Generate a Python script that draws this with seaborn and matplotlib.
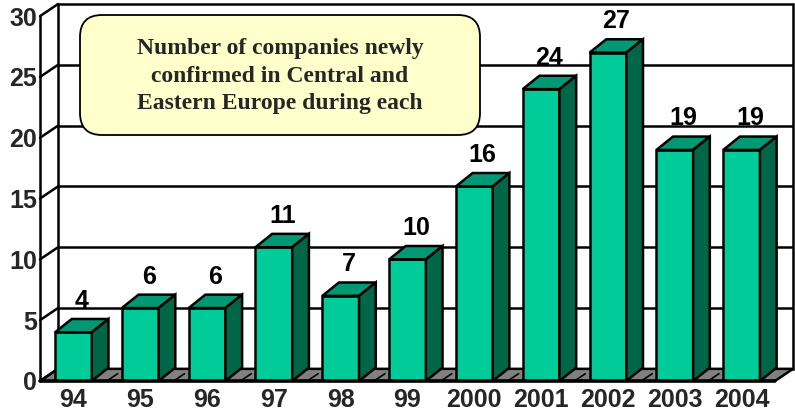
import matplotlib.pyplot as plt
import seaborn as sns
from matplotlib.patches import Polygon, Rectangle, FancyBboxPatch

years = ["94", "95", "96", "97", "98", "99", "2000", "2001", "2002", "2003", "2004"]
counts = [4, 6, 6, 11, 7, 10, 16, 24, 27, 19, 19]
y_ticks = [0, 5, 10, 15, 20, 25, 30]
note_lines = ["Number of companies newly",
              "confirmed in Central and",
              "Eastern Europe during each"]

FRONT = "#00CC99"
TOP = "#009973"
SIDE = "#006648"
FLOOR = "#808080"
DX, DY = 0.27, 1.0   # depth of the walls (category units, value units)
BX, BY = 0.25, 1.1   # depth of each bar
LW = 1.8
FS = 18

sns.set_theme(style="white")
plt.rcParams["font.family"] = ["Liberation Sans", "DejaVu Sans"]

fig = plt.figure(figsize=(7.95, 4.16), dpi=100)
ax = fig.add_axes([40 / 795, 35 / 416, 753 / 795, 377 / 416])

sns.barplot(x=years, y=counts, color=FRONT, saturation=1, width=0.55,
            edgecolor="black", linewidth=LW, ax=ax, zorder=4)
bars = list(ax.patches)

n = len(years)
x_lo, x_hi = -0.5, n - 0.5
top = y_ticks[-1]

# back wall + gridlines
ax.add_patch(Rectangle((x_lo + DX, DY), n, top, fc="white", ec="black",
                       lw=LW, zorder=0, clip_on=False))
for v in y_ticks[1:-1]:
    ax.plot([x_lo + DX, x_hi + DX], [v + DY, v + DY], color="black", lw=LW, zorder=1)

# left wall
ax.plot([x_lo, x_lo], [0, top], color="black", lw=LW, zorder=2, clip_on=False)
for v in y_ticks:
    ax.plot([x_lo, x_lo + DX], [v, v + DY], color="black", lw=LW, zorder=2, clip_on=False)

# floor
ax.add_patch(Polygon([(x_lo, 0), (x_hi, 0), (x_hi + DX, DY), (x_lo + DX, DY)],
                     closed=True, fc=FLOOR, ec="black", lw=LW, zorder=1, clip_on=False))
for k in range(n + 1):
    b = k - 0.5
    ax.plot([b, b + DX * 0.6], [0, DY * 0.6], color="black", lw=1.2, zorder=1)
ax.plot([x_lo, x_hi], [0, 0], color="black", lw=LW * 1.4, zorder=5, clip_on=False)

# 3d faces of the bars + value labels
for p, v in zip(bars, counts):
    x0 = p.get_x()
    w = p.get_width()
    h = p.get_height()
    x1 = x0 + w
    ax.add_patch(Polygon([(x0, h), (x1, h), (x1 + BX, h + BY), (x0 + BX, h + BY)],
                         closed=True, fc=TOP, ec="black", lw=LW, zorder=4))
    ax.add_patch(Polygon([(x1, 0), (x1 + BX, BY), (x1 + BX, h + BY), (x1, h)],
                         closed=True, fc=SIDE, ec="black", lw=LW, zorder=4))
    ax.text(x0 + w / 2 + BX / 2, h + BY + 0.5, str(v), ha="center", va="bottom",
            fontsize=FS, fontweight="bold", color="black", zorder=6)

ax.set_xlim(x_lo, x_hi + DX)
ax.set_ylim(0, top + DY)
ax.set_yticks(y_ticks)
ax.set_yticklabels([str(t) for t in y_ticks])
ax.tick_params(axis="both", length=0, labelsize=FS)
ax.tick_params(axis="x", pad=5)
ax.tick_params(axis="y", pad=2)
for lbl in ax.get_xticklabels() + ax.get_yticklabels():
    lbl.set_fontweight("bold")
ax.set_xlabel("")
ax.set_ylabel("")
for s in ax.spines.values():
    s.set_visible(False)
ax.patch.set_visible(False)

# note box
box = FancyBboxPatch((0.80, 2.81), 4.0, 1.2,
                     boxstyle="round,pad=0,rounding_size=0.22",
                     transform=fig.dpi_scale_trans, fc="#FFFFCC", ec="black",
                     lw=1.3, zorder=5)
fig.add_artist(box)
fig.text(2.80 / 7.95, 1 - 76 / 416, "\n".join(note_lines), ha="center", va="center",
         family=["Liberation Serif", "DejaVu Serif"], fontweight="bold",
         fontsize=17, linespacing=1.38, zorder=6)

fig.savefig("out.png", dpi=100)
